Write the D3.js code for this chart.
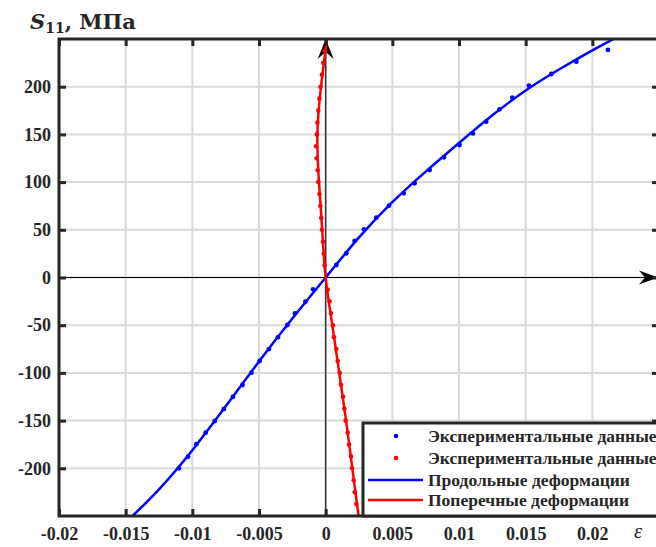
<!DOCTYPE html>
<html>
<head>
<meta charset="utf-8">
<script src="https://cdn.jsdelivr.net/npm/d3@7/dist/d3.min.js"></script>
<style>
  html, body { margin: 0; padding: 0; background: #fff; }
  svg { display: block; }
  text { font-family: "Liberation Serif", "Times New Roman", serif; }
</style>
</head>
<body>
<svg id="chart" width="656" height="547"></svg>
<script>
// Axis ticks
const xTicks = [-0.02, -0.015, -0.01, -0.005, 0, 0.005, 0.01, 0.015, 0.02];
const xTickLabels = ["-0.02", "-0.015", "-0.01", "-0.005", "0", "0.005", "0.01", "0.015", "0.02"];
const yTicks = [-200, -150, -100, -50, 0, 50, 100, 150, 200];
const yTickLabels = ["-200", "-150", "-100", "-50", "0", "50", "100", "150", "200"];

// Experimental points, longitudinal strain (blue)
const expLongStrain = [-0.011, -0.01032, -0.0097, -0.009, -0.00832, -0.00765, -0.00695, -0.00624,
  -0.00557, -0.00495, -0.00425, -0.00358, -0.00287, -0.0023, -0.00152, -0.00095,
  0.0008, 0.00155, 0.00217, 0.00287, 0.0038, 0.00475, 0.00585, 0.00667, 0.0078, 0.00887,
  0.01004, 0.01104, 0.01204, 0.01304, 0.014, 0.01524, 0.01692, 0.0188, 0.02117];
const expLongStress = [-200, -187.8, -174.8, -162.7, -150.4, -138, -125, -112.7,
  -99.8, -87.5, -75, -62.7, -49.8, -37.5, -25.4, -12.4,
  13.1, 25.4, 38.3, 50.5, 62.7, 75.3, 88.3, 98.7, 112.7, 126,
  138.9, 151, 163.3, 176.3, 188.5, 201, 213.3, 226.2, 238.5];

// Experimental points, transverse strain (red)
const expTransStrain = [0.0023, 0.00218, 0.0021, 0.00198, 0.0019, 0.00175, 0.00165, 0.0015, 0.0014,
  0.0013, 0.00115, 0.00105, 0.0009, 0.0008, 0.00062, 0.00055, 0.0004, 0.0003, 0.00015,
  -0.00008, -0.00014, -0.0002, -0.00028, -0.00033, -0.0004, -0.00047, -0.00055, -0.0006,
  -0.00068, -0.00072, -0.00066, -0.00062, -0.00055, -0.00047, -0.00038, -0.00028, -0.00018, -0.00008];
const expTransStress = [-237.5, -225, -212.5, -200, -187.5, -175, -162.5, -150, -137.5,
  -125, -112.5, -100, -87.5, -75, -62.5, -50, -37.5, -25, -12.5,
  12.5, 25, 37.5, 50, 62.5, 75, 87.5, 100, 112.5,
  125, 137.5, 150, 162.5, 175, 187.5, 200, 212.5, 225, 237.5];

// Approximation curves
const fitLongStrain = [-0.015, -0.0125, -0.01, -0.0075, -0.005, -0.0025, 0, 0.0025, 0.005, 0.0075,
  0.01, 0.0125, 0.015, 0.0175, 0.02, 0.0225];
const fitLongStress = [-257, -222, -181, -135, -88, -43, 0, 42, 79, 111, 141, 170, 196, 218, 238, 257];
const fitTransStrain = [0.00247, 0.002, 0.00153, 0.00102, 0.0005, 0, -0.00026, -0.0005, -0.00062, -0.00035, 0.0001];
const fitTransStress = [-250, -200, -150, -100, -50, 0, 50, 100, 150, 200, 250];

const legendLabels = ["Экспериментальные данные", "Экспериментальные данные",
  "Продольные деформации", "Поперечные деформации"];

const svg = d3.select("#chart");
const pLeft = 59, pRight = 659, pTop = 39, pBottom = 516;

const x = d3.scaleLinear().domain([-0.02, 0.025]).range([pLeft, pRight]);
const y = d3.scaleLinear().domain([-250, 250]).range([pBottom, pTop]);

const gridColor = "#dadada", frameColor = "#262626";

// grid
const grid = svg.append("g");
grid.selectAll("line.gx").data(xTicks.slice(1)).join("line")
  .attr("x1", d => x(d)).attr("x2", d => x(d)).attr("y1", pTop).attr("y2", pBottom)
  .attr("stroke", gridColor).attr("stroke-width", 2);
grid.selectAll("line.gy").data(yTicks).join("line")
  .attr("y1", d => y(d)).attr("y2", d => y(d)).attr("x1", pLeft).attr("x2", pRight)
  .attr("stroke", gridColor).attr("stroke-width", 2);

// coordinate axes with arrows
const x0 = x(0), y0 = y(0);
svg.append("line").attr("x1", pLeft).attr("x2", 648).attr("y1", y0).attr("y2", y0)
  .attr("stroke", "#000").attr("stroke-width", 1.2);
svg.append("path")
  .attr("d", `M658,${y0} L639,${y0 - 7} L645,${y0} L639,${y0 + 7} Z`).attr("fill", "#000");
svg.append("line").attr("x1", x0).attr("x2", x0).attr("y1", pBottom).attr("y2", 48)
  .attr("stroke", "#333").attr("stroke-width", 1.5);
svg.append("path")
  .attr("d", `M${x0},${pTop} L${x0 - 8},${pTop + 20} L${x0},${pTop + 13} L${x0 + 8},${pTop + 20} Z`)
  .attr("fill", "#000");

// data
svg.append("clipPath").attr("id", "plotClip").append("rect")
  .attr("x", pLeft).attr("y", pTop).attr("width", pRight - pLeft).attr("height", pBottom - pTop);
const plot = svg.append("g").attr("clip-path", "url(#plotClip)");

const line = d3.line().x(d => x(d[0])).y(d => y(d[1])).curve(d3.curveNatural);
plot.append("path").datum(d3.zip(fitLongStrain, fitLongStress))
  .attr("d", line).attr("fill", "none").attr("stroke", "#0000ff").attr("stroke-width", 2.5);
plot.append("path").datum(d3.zip(fitTransStrain, fitTransStress))
  .attr("d", line).attr("fill", "none").attr("stroke", "#ff0000").attr("stroke-width", 2.5);

plot.selectAll("circle.b").data(d3.zip(expLongStrain, expLongStress)).join("circle")
  .attr("cx", d => x(d[0])).attr("cy", d => y(d[1])).attr("r", 2.4).attr("fill", "#0000ff");
plot.selectAll("circle.r").data(d3.zip(expTransStrain, expTransStress)).join("circle")
  .attr("cx", d => x(d[0])).attr("cy", d => y(d[1])).attr("r", 2.3).attr("fill", "#ff0000");

// frame
svg.append("rect").attr("x", pLeft).attr("y", pTop).attr("width", pRight - pLeft).attr("height", pBottom - pTop)
  .attr("fill", "none").attr("stroke", frameColor).attr("stroke-width", 3);

// axes with inward ticks
function styleAxis(g) {
  g.select(".domain").remove();
  g.selectAll(".tick line").attr("stroke", frameColor).attr("stroke-width", 3);
  g.selectAll(".tick text").attr("fill", "#262626")
    .style("font-family", "'Liberation Serif', serif").style("font-weight", "bold").style("font-size", "18px");
}
svg.append("g").attr("transform", `translate(0,${pBottom})`)
  .call(d3.axisBottom(x).tickValues(xTicks).tickFormat((d, i) => xTickLabels[i]).tickSizeInner(-7).tickPadding(11))
  .call(styleAxis);
svg.append("g").attr("transform", `translate(0,${pTop})`)
  .call(d3.axisTop(x).tickValues(xTicks).tickFormat("").tickSizeInner(-7))
  .call(styleAxis);
svg.append("g").attr("transform", `translate(${pLeft},0)`)
  .call(d3.axisLeft(y).tickValues(yTicks).tickFormat((d, i) => yTickLabels[i]).tickSizeInner(-7).tickPadding(8))
  .call(styleAxis);
svg.append("g").attr("transform", `translate(${pRight},0)`)
  .call(d3.axisRight(y).tickValues(yTicks).tickFormat("").tickSizeInner(-7))
  .call(styleAxis);

// axis titles
const title = svg.append("text").attr("x", 30).attr("y", 29)
  .attr("font-size", 21).attr("font-weight", "bold").attr("fill", "#262626")
  .style("font-family", "'DejaVu Serif', serif");
title.append("tspan").attr("font-style", "italic").text("S");
title.append("tspan").attr("font-size", 14).attr("dy", 4).text("11");
title.append("tspan").attr("dy", -4).text(", МПа");

svg.append("text").attr("x", 634).attr("y", 538).attr("font-size", 21).attr("font-style", "italic")
  .attr("fill", "#262626").text("ε");

// legend
const lg = svg.append("g");
lg.append("rect").attr("x", 363).attr("y", 423).attr("width", 320).attr("height", 93)
  .attr("fill", "#fff").attr("stroke", frameColor).attr("stroke-width", 3);
const rowsY = [436, 458, 480, 500];
lg.append("circle").attr("cx", 396).attr("cy", rowsY[0]).attr("r", 2.3).attr("fill", "#0000ff");
lg.append("circle").attr("cx", 396).attr("cy", rowsY[1]).attr("r", 2.3).attr("fill", "#ff0000");
lg.append("line").attr("x1", 368).attr("x2", 423).attr("y1", rowsY[2]).attr("y2", rowsY[2])
  .attr("stroke", "#0000ff").attr("stroke-width", 2.5);
lg.append("line").attr("x1", 368).attr("x2", 423).attr("y1", rowsY[3]).attr("y2", rowsY[3])
  .attr("stroke", "#ff0000").attr("stroke-width", 2.5);
lg.selectAll("text").data(legendLabels).join("text")
  .attr("x", 428).attr("y", (d, i) => rowsY[i] + 6)
  .attr("font-size", 17.5).attr("font-weight", "bold").attr("fill", "#262626").text(d => d);
</script>
</body>
</html>
